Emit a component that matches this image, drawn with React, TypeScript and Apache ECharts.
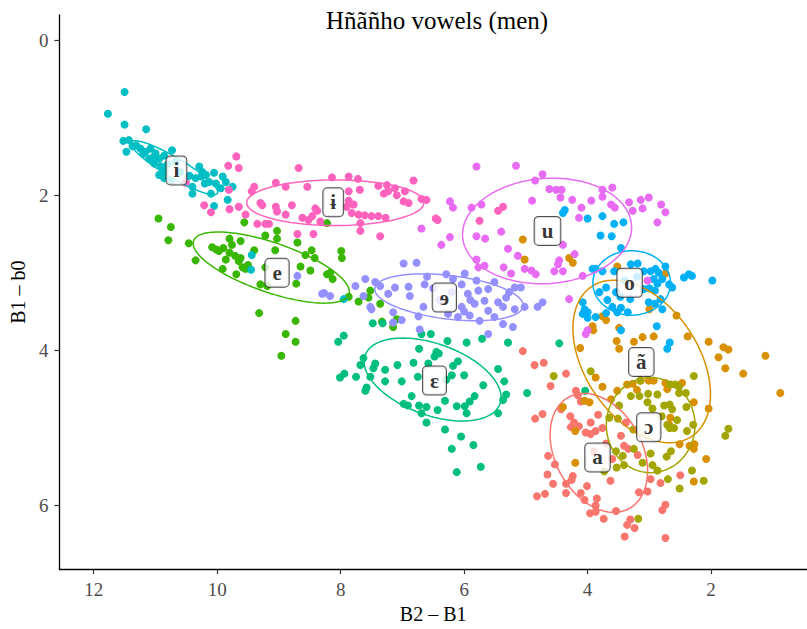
import React, { useEffect, useRef } from "react";
import * as echarts from "echarts";

// ---------- data (B2 – B1, B1 – b0) ----------
const ptsI: number[][] = [
  [11.50,0.67],[11.77,0.95],[11.50,1.09],[11.15,1.15],[11.52,1.30],[11.43,1.29],[11.47,1.44],[11.31,1.36],
  [11.24,1.40],[11.16,1.44],[11.08,1.40],[11.00,1.46],[11.10,1.53],[10.94,1.53],[10.86,1.49],[11.02,1.59],
  [10.91,1.63],[10.73,1.42],[10.94,1.74],[10.86,1.78],[10.75,1.81],[10.51,1.83],[10.40,1.98],[10.29,1.63],
  [10.24,1.70],[10.26,1.76],[10.18,1.74],[10.05,1.71],[10.13,1.83],[10.02,1.85],[9.91,1.76],[9.86,1.83],
  [9.94,1.91],[9.75,1.89],[10.10,1.98],[9.83,2.06],[10.05,2.14],[10.40,1.89],[10.35,1.78],[10.67,1.57],
  [11.37,1.37],[9.44,2.77],[9.45,2.96],[7.95,3.34],[11.20,1.47],[10.80,1.60],[10.60,1.70],[10.45,1.75],
  [10.20,1.85],[11.05,1.52],[10.85,1.68]
];
const ptsBarI: number[][] = [
  [9.69,1.50],[9.82,1.62],[9.65,1.65],[9.40,1.89],[9.81,1.93],[9.65,2.15],[9.80,2.18],[10.21,2.13],
  [10.10,2.22],[10.51,1.84],[8.68,1.65],[9.44,1.95],[9.05,1.84],[8.89,1.89],[8.54,1.89],[8.14,1.77],
  [7.87,1.76],[7.72,1.79],[7.69,1.93],[7.87,1.95],[7.87,2.07],[7.90,2.15],[7.79,2.12],[9.30,2.10],
  [9.27,2.13],[9.05,2.15],[9.03,2.21],[8.89,2.25],[8.79,2.13],[8.62,2.29],[8.46,2.27],[8.38,2.20],
  [8.52,2.32],[8.33,2.34],[8.41,2.17],[7.82,2.23],[7.71,2.25],[7.61,2.26],[7.50,2.27],[7.39,2.27],
  [7.27,2.29],[7.68,2.36],[7.68,2.46],[7.36,2.53],[7.39,1.88],[7.25,1.87],[7.30,1.98],[7.23,1.95],
  [7.12,1.91],[7.09,2.00],[6.96,1.95],[6.82,1.81],[6.98,2.08],[6.90,2.10],[6.69,2.05],[6.61,2.06],
  [6.46,2.30],[8.44,2.50],[8.70,2.50],[9.54,2.25],[9.35,2.37],[9.22,2.37],[9.16,2.37],[5.45,2.20],
  [5.37,2.15],[5.75,2.33],[6.43,2.32]
];
const ptsE: number[][] = [
  [10.95,2.30],[10.75,2.41],[10.79,2.58],[10.46,2.62],[10.35,2.84],[10.08,2.67],[10.01,2.70],[9.97,2.72],
  [9.80,2.56],[9.76,2.64],[9.62,2.59],[9.80,2.74],[9.71,2.78],[9.62,2.81],[9.86,2.83],[9.91,2.95],
  [9.69,3.02],[9.59,2.93],[9.54,2.95],[9.40,2.71],[9.22,2.93],[9.30,3.15],[9.19,3.17],[9.22,2.52],
  [9.03,2.46],[9.03,2.56],[9.06,2.71],[8.70,2.61],[8.57,2.77],[8.47,2.71],[8.42,2.81],[8.65,2.92],
  [8.49,2.97],[8.72,3.14],[8.22,3.02],[8.13,3.08],[8.17,3.00],[7.99,2.72],[7.98,2.81],[7.87,3.31],
  [7.71,3.37],[9.32,3.52],[8.73,3.62],[8.89,3.79],[8.73,3.89],[8.96,4.07],[9.56,2.35],[8.22,2.36],
  [7.55,3.32],[7.36,3.40],[7.33,3.63],[7.15,3.70],[7.09,3.60],[7.52,3.23],[9.90,2.68],[9.65,2.85],
  [9.50,2.90]
];
const ptsSchwa: number[][] = [
  [6.98,2.88],[6.77,2.87],[7.60,3.08],[7.76,3.17],[7.44,3.12],[7.36,3.17],[7.23,3.27],[7.12,3.19],
  [7.50,3.47],[7.15,3.51],[7.15,3.64],[7.01,3.61],[6.90,3.18],[6.88,3.30],[6.74,3.56],[6.72,3.73],
  [6.66,3.44],[6.64,3.15],[6.29,3.02],[6.18,3.08],[5.99,3.01],[6.04,3.15],[5.94,3.27],[6.04,3.44],
  [6.26,3.53],[6.10,3.57],[5.91,3.55],[5.83,3.40],[5.77,3.23],[5.67,3.36],[5.61,3.21],[5.51,3.12],
  [5.61,3.49],[5.75,3.62],[5.51,3.57],[5.37,3.44],[5.32,3.32],[5.27,3.25],[5.18,3.19],[5.08,3.19],
  [5.18,3.47],[5.02,3.44],[5.37,3.66],[5.21,3.70],[8.27,3.26],[8.17,3.30],[8.70,3.04],[8.30,3.27],
  [7.63,3.30],[7.52,3.44],[5.61,3.79],[4.81,3.44],[4.73,3.38],[6.50,3.20],[6.40,3.35],[6.20,3.25],
  [5.90,3.35],[6.00,3.50],[5.80,3.10],[6.60,3.05],[5.45,3.38]
];
const ptsEps: number[][] = [
  [7.95,3.81],[8.04,3.89],[7.63,4.10],[7.68,4.19],[8.01,4.35],[7.94,4.30],[7.75,4.34],[7.44,4.17],
  [7.47,4.23],[7.52,4.34],[7.58,4.48],[7.60,4.52],[7.28,4.25],[7.28,4.40],[7.08,4.19],[7.01,4.40],
  [6.82,4.16],[6.73,3.98],[6.75,4.34],[6.85,4.59],[6.98,4.69],[6.91,4.71],[6.69,3.79],[6.54,3.79],
  [6.45,4.02],[6.41,4.04],[6.58,4.17],[6.73,4.71],[6.69,4.81],[6.61,4.73],[6.61,4.93],[6.43,4.77],
  [6.31,4.65],[6.29,4.38],[6.20,4.32],[6.18,4.20],[6.10,4.14],[6.27,3.88],[5.96,3.90],[6.00,4.32],
  [6.12,4.72],[5.99,4.72],[5.96,4.81],[5.91,4.66],[5.83,4.59],[5.69,4.45],[5.71,3.85],[5.45,4.24],
  [5.35,4.40],[5.32,4.57],[5.37,4.64],[5.45,4.81],[5.29,3.90],[4.98,4.55],[6.31,5.02],[6.05,5.11],
  [5.85,5.22],[6.20,5.27],[5.73,5.50],[6.12,5.57],[7.48,3.65],[7.32,3.65],[4.46,3.91],[4.04,4.52],
  [6.48,4.08]
];
const ptsU: number[][] = [
  [5.80,1.63],[5.16,1.62],[4.73,1.73],[4.85,1.81],[6.23,2.08],[6.18,2.16],[5.88,2.16],[5.72,2.12],
  [4.90,2.07],[4.62,1.92],[4.51,1.93],[4.42,1.93],[4.44,2.03],[4.25,2.06],[4.10,2.16],[3.94,2.07],
  [3.76,1.93],[3.76,2.02],[3.60,1.90],[3.62,2.12],[3.56,2.16],[3.33,2.09],[3.27,2.20],[3.14,2.06],
  [3.11,2.17],[3.01,2.03],[2.81,2.12],[2.74,2.22],[2.87,2.35],[4.14,2.29],[6.23,2.54],[5.80,2.53],
  [5.66,2.56],[5.40,2.47],[5.80,2.83],[5.67,2.91],[5.29,2.69],[5.13,2.78],[5.36,2.93],[5.02,2.95],
  [4.91,2.97],[5.24,3.01],[4.46,2.84],[4.48,2.89],[4.40,2.64],[4.21,2.76],[4.40,2.98],[4.54,2.98],
  [6.37,2.64],[6.69,2.43],[5.77,2.93],[4.84,3.02],[4.08,3.04],[4.30,3.34],[3.03,3.10],[4.00,3.74],
  [4.03,3.79]
];
const ptsO: number[][] = [
  [4.37,2.19],[4.40,2.23],[4.00,2.30],[3.76,2.27],[3.57,2.37],[3.42,2.35],[3.79,2.52],[3.61,2.53],
  [3.46,2.68],[3.87,2.95],[3.76,2.98],[3.57,2.98],[3.70,3.19],[3.81,3.25],[3.68,3.35],[3.54,3.25],
  [3.47,3.31],[3.60,3.44],[3.46,3.45],[3.35,3.51],[3.52,3.51],[3.31,3.34],[3.30,2.89],[3.19,2.88],
  [3.09,2.98],[3.09,3.21],[2.98,2.98],[2.90,2.95],[2.93,3.08],[2.87,3.14],[2.91,3.23],[2.82,3.34],
  [3.01,3.38],[2.91,3.40],[2.79,3.47],[2.74,2.92],[2.79,3.08],[2.68,3.15],[2.63,3.19],[2.44,3.06],
  [2.36,3.02],[2.31,3.04],[1.98,3.10],[4.08,3.38],[4.05,3.47],[4.08,3.53],[4.00,3.51],[4.00,3.58],
  [3.87,3.57],[3.92,2.95],[3.70,3.52],[2.88,3.69],[2.67,3.90],[2.71,3.98],[3.46,3.74],[3.20,3.05],
  [3.00,3.20],[2.85,3.00],[3.40,3.10]
];
const ptsNasalA: number[][] = [
  [4.30,2.81],[4.24,2.87],[3.52,2.92],[2.74,3.01],[3.00,3.47],[3.76,3.56],[3.70,3.61],[3.92,3.69],
  [3.91,3.74],[3.49,3.71],[2.56,3.55],[4.12,3.97],[3.53,3.88],[3.49,3.98],[3.25,3.89],[3.11,3.83],
  [2.93,3.82],[2.38,3.82],[2.04,3.89],[1.80,3.96],[1.72,3.99],[1.88,4.09],[1.77,4.23],[1.48,4.30],
  [1.12,4.07],[0.88,4.55],[3.87,4.35],[3.76,4.47],[4.05,4.65],[3.52,4.52],[3.36,4.44],[3.14,4.39],
  [3.01,4.39],[2.93,4.39],[2.74,4.42],[2.71,4.50],[2.47,4.42],[2.28,4.67],[3.20,4.51],[3.62,4.63],
  [3.97,4.67],[4.40,4.73],[4.20,5.04],[4.20,5.45],[3.27,4.43],[2.04,4.75],[2.51,5.21],[2.35,5.23],
  [2.27,5.21],[2.68,4.96],[2.66,4.87],[2.08,5.40],[2.28,5.69],[2.28,5.27],[5.05,2.57],[5.02,2.83]
];
const ptsOpenO: number[][] = [
  [4.55,4.33],[3.95,4.27],[3.15,4.39],[3.16,4.59],[3.03,4.67],[2.87,4.57],[2.76,4.71],[2.67,4.70],
  [2.63,4.76],[2.58,4.44],[2.52,4.55],[2.40,4.73],[2.28,4.33],[2.29,4.96],[2.71,4.96],[2.67,5.00],
  [2.60,5.00],[2.39,5.04],[3.49,4.71],[3.65,4.87],[3.51,4.88],[3.26,5.02],[3.54,5.30],[3.43,5.36],
  [3.53,5.51],[3.41,5.48],[3.25,5.27],[3.11,5.45],[2.98,5.33],[2.95,5.48],[2.87,5.55],[2.72,5.37],
  [2.65,5.30],[2.70,5.66],[2.51,5.78],[2.31,5.55],[2.12,5.68],[1.72,5.01],[1.77,5.10],[3.73,5.56],
  [3.18,6.17],[3.02,4.56],[3.30,4.59],[2.66,4.44],[2.52,4.47],[2.41,4.55],[2.80,4.85],[2.95,4.75],
  [2.55,4.90]
];
const ptsA: number[][] = [
  [4.60,4.46],[4.35,4.30],[4.19,4.52],[4.85,4.88],[4.73,4.82],[4.43,4.76],[4.28,4.85],[4.22,4.93],
  [4.27,4.99],[4.14,4.98],[4.03,5.06],[3.95,5.08],[3.87,5.04],[3.76,5.00],[3.83,4.83],[4.11,4.66],
  [3.95,4.93],[3.46,5.10],[3.41,5.23],[3.34,5.27],[3.19,5.35],[3.38,4.93],[4.64,5.36],[4.53,5.47],
  [4.65,5.60],[4.56,5.72],[4.82,5.88],[4.69,5.85],[4.35,5.72],[4.24,5.62],[4.26,5.67],[4.35,5.84],
  [4.11,5.84],[4.01,5.75],[4.05,5.93],[3.85,5.91],[3.87,6.00],[3.96,6.10],[3.87,6.08],[3.74,6.17],
  [3.54,6.07],[3.31,6.18],[3.36,6.25],[3.24,6.29],[3.40,6.40],[2.74,6.42],[2.79,6.06],[2.74,5.99],
  [2.98,5.66],[2.82,5.71],[3.03,5.82],[3.17,5.83],[2.50,5.61],[3.63,5.68],[4.86,4.19],[4.71,4.16],
  [4.16,4.58],[5.05,4.01],[3.70,5.20],[3.60,5.40],[3.90,5.30]
];

// vowel label centres
const labelNames = ["i", "ɨ", "e", "ɘ", "ɛ", "u", "o", "ã", "ɔ", "a"];
const labelX = [10.66, 8.12, 9.03, 6.32, 6.48, 4.65, 3.32, 3.13, 3.01, 3.84];
const labelY = [1.68, 2.09, 3.00, 3.32, 4.39, 2.46, 3.13, 4.15, 4.99, 5.38];

// 95% ellipses: centre (cx, cy) and two semi-axis vectors (ux, uy), (vx, vy) in data units
const ellipseParams: Record<string, number[]> = {
  "i": [10.694, 1.646, -0.699, 0.330, 0.083, 0.110],
  "ɨ": [8.087, 2.097, 1.435, 0, 0, 0.294],
  "e": [9.124, 2.933, -1.258, 0.345, 0.131, 0.302],
  "ɘ": [6.245, 3.316, -1.202, 0.115, 0.043, 0.279],
  "ɛ": [6.511, 4.376, -1.092, 0.314, 0.198, 0.432],
  "u": [4.657, 2.461, -1.368, -0.075, -0.060, 0.676],
  "o": [3.286, 3.131, 0.629, 0, 0, 0.415],
  "ã": [3.124, 4.143, -0.807, 0.968, 0.768, 0.401],
  "ɔ": [2.979, 4.964, 0.718, 0, 0, 0.613],
  "a": [3.818, 5.322, -0.485, 0.720, 0.623, 0.263],
};

const xTicks = [2, 4, 6, 8, 10, 12];
const yTicks = [0, 2, 4, 6];

const groups: { name: string; pts: number[][]; color: string }[] = [
  { name: "a", pts: ptsA, color: "#F8766D" },
  { name: "ã", pts: ptsNasalA, color: "#D89000" },
  { name: "ɔ", pts: ptsOpenO, color: "#A3A500" },
  { name: "e", pts: ptsE, color: "#39B600" },
  { name: "ɛ", pts: ptsEps, color: "#00BF7D" },
  { name: "i", pts: ptsI, color: "#00BFC4" },
  { name: "o", pts: ptsO, color: "#00B0F6" },
  { name: "ɘ", pts: ptsSchwa, color: "#9590FF" },
  { name: "u", pts: ptsU, color: "#E76BF3" },
  { name: "ɨ", pts: ptsBarI, color: "#FF62BC" },
];

function ellipsePoints(p: number[]): number[][] {
  const [cx, cy, ux, uy, vx, vy] = p;
  const out: number[][] = [];
  const n = 120;
  for (let k = 0; k <= n; k++) {
    const t = (2 * Math.PI * k) / n;
    const c = Math.cos(t), s = Math.sin(t);
    out.push([cx + ux * c + vx * s, cy + uy * c + vy * s]);
  }
  return out;
}

const SERIF = "'Liberation Serif', 'DejaVu Serif', serif";

export default function App() {
  const ref = useRef<HTMLDivElement>(null);
  useEffect(() => {
    if (!ref.current) return;
    const chart = echarts.init(ref.current, undefined, { renderer: "svg" });
    const series: any[] = [];
    groups.forEach((g) => {
      series.push({
        type: "scatter",
        name: g.name,
        data: g.pts,
        symbolSize: 8,
        itemStyle: { color: g.color, opacity: 1 },
        z: 2,
        silent: true,
      });
    });
    groups.forEach((g) => {
      series.push({
        type: "line",
        name: g.name + "-ellipse",
        data: ellipsePoints(ellipseParams[g.name]),
        showSymbol: false,
        symbol: "none",
        smooth: false,
        lineStyle: { color: g.color, width: 1.5 },
        z: 3,
        silent: true,
      });
    });
    series.push({
      type: "scatter",
      name: "labels",
      data: labelNames.map((n, i) => ({ name: n, value: [labelX[i], labelY[i]] })),
      symbolSize: 1,
      itemStyle: { color: "rgba(0,0,0,0)" },
      z: 5,
      silent: true,
      label: {
        show: true,
        position: "inside",
        formatter: "{b}",
        fontFamily: SERIF,
        fontWeight: "bold",
        fontSize: 21,
        lineHeight: 20,
        color: "#000",
        backgroundColor: "#fff",
        borderColor: "#222",
        borderWidth: 1,
        borderRadius: 4,
        padding: [4, 7, 4, 7],
      },
    });

    chart.setOption({
      animation: false,
      title: {
        text: "Hñãñho vowels (men)",
        left: 321,
        top: 3,
        textStyle: { fontFamily: SERIF, fontWeight: "normal", fontSize: 25, lineHeight: 25, color: "#000" },
      },
      grid: { left: 56, right: 0, top: 15, bottom: 55, containLabel: false },
      xAxis: {
        type: "value",
        inverse: true,
        min: 0.447,
        max: 12.555,
        name: "B2 – B1",
        nameLocation: "middle",
        nameGap: 34,
        nameTextStyle: { fontFamily: SERIF, fontSize: 20, color: "#000" },
        axisLine: { show: true, onZero: false, lineStyle: { color: "#000", width: 1.3 } },
        axisTick: { show: true, length: 5, customValues: xTicks, lineStyle: { color: "#333", width: 1.2 } },
        axisLabel: { customValues: xTicks, margin: 11, fontFamily: SERIF, fontSize: 19, color: "#4D4D4D" },
        splitLine: { show: false },
      },
      yAxis: {
        type: "value",
        inverse: true,
        min: -0.323,
        max: 6.82,
        name: "B1 – b0",
        nameLocation: "middle",
        nameGap: 27,
        nameTextStyle: { fontFamily: SERIF, fontSize: 20, color: "#000" },
        axisLine: { show: true, onZero: false, lineStyle: { color: "#000", width: 1.3 } },
        axisTick: { show: true, length: 5, customValues: yTicks, lineStyle: { color: "#333", width: 1.2 } },
        axisLabel: { customValues: yTicks, margin: 11, fontFamily: SERIF, fontSize: 19, color: "#4D4D4D" },
        splitLine: { show: false },
      },
      series,
    });
    return () => chart.dispose();
  }, []);
  return (
    <div
      ref={ref}
      style={{ position: "fixed", left: 0, top: 0, width: 807, height: 629, background: "#fff" }}
    />
  );
}
